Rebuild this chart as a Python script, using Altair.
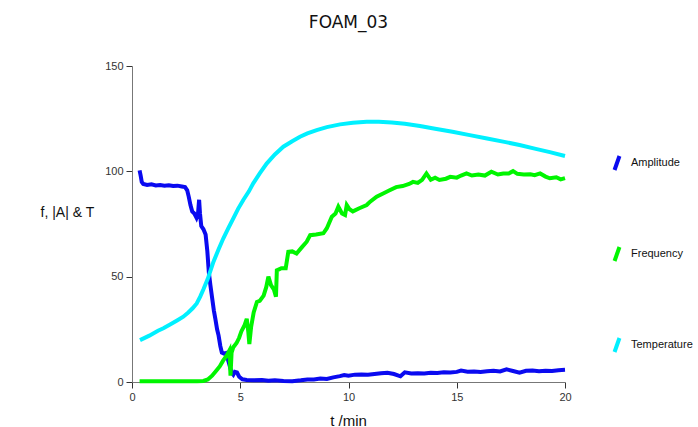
import altair as alt
import pandas as pd

# ---- data ----
amp_t = [0.35, 0.40, 0.45, 0.52, 0.7, 0.9, 1.1, 1.3, 1.5, 1.7, 1.9, 2.1, 2.3, 2.45, 2.55, 2.62, 2.7, 2.78,
         2.88, 2.98, 3.05, 3.1, 3.14, 3.2, 3.3, 3.4, 3.48, 3.55, 3.62, 3.7, 3.78, 3.85, 3.93, 4.0, 4.08,
         4.15, 4.25, 4.35, 4.45, 4.53, 4.6, 4.68, 4.75, 4.85, 4.95, 5.1, 5.3, 5.6, 6.0, 6.3, 6.6, 7.0,
         7.4, 7.8, 8.1, 8.4, 8.7, 9.0, 9.3, 9.6, 9.8, 10.0, 10.3, 10.6, 10.9, 11.2, 11.5, 11.8, 12.1,
         12.4, 12.6, 12.9, 13.2, 13.5, 13.8, 14.1, 14.4, 14.7, 15.0, 15.2, 15.5, 15.8, 16.1, 16.4, 16.7,
         17.0, 17.3, 17.6, 17.9, 18.2, 18.5, 18.8, 19.1, 19.4, 19.7, 20.0]
amp_v = [100.5, 98, 95, 94, 93.5, 93.8, 93.3, 93.5, 93.2, 93.4, 93.0, 93.2, 92.8, 92.5, 91, 88, 84, 81,
         80, 78, 80, 86.5, 80, 74, 72.5, 70, 62, 52, 46, 40, 34, 30, 25, 22, 17,
         14, 13.5, 13.8, 10, 7, 4.5, 3.5, 4.8, 4.5, 2.5, 1.3, 1.0, 0.8, 1.0, 0.6, 0.8, 0.5,
         0.4, 0.8, 1.2, 1.2, 1.6, 1.4, 2.2, 2.8, 3.3, 3.0, 3.5, 3.6, 3.4, 3.8, 4.2, 4.4, 3.8,
         2.7, 4.6, 4.0, 4.2, 4.0, 4.4, 4.3, 4.6, 4.5, 4.8, 5.4, 4.9, 5.0, 4.8, 5.1, 5.3,
         5.0, 6.0, 5.2, 4.4, 5.3, 5.4, 5.1, 5.3, 5.2, 5.6, 5.8]

freq_t = [0.35, 1.0, 2.0, 3.0, 3.3, 3.5, 3.7, 3.9, 4.06, 4.2, 4.37, 4.5, 4.55, 4.6, 4.68, 4.83, 4.95,
          5.05, 5.2, 5.3, 5.37, 5.42, 5.5, 5.62, 5.77, 5.9, 6.08, 6.2, 6.3, 6.42, 6.55, 6.65, 6.69,
          6.9, 7.1, 7.22, 7.4, 7.6, 7.85, 8.07, 8.23, 8.5, 8.84, 9.0, 9.23, 9.4, 9.53, 9.7, 9.84, 9.92,
          10.05, 10.2, 10.5, 10.84, 11.0, 11.3, 11.6, 11.9, 12.2, 12.5, 12.8, 12.98, 13.2, 13.4, 13.6,
          13.8, 14.0, 14.2, 14.5, 14.7, 15.0, 15.2, 15.45, 15.7, 16.0, 16.3, 16.6, 16.9, 17.15, 17.4,
          17.6, 17.8, 18.1, 18.4, 18.6, 18.85, 19.1, 19.3, 19.6, 19.8, 20.0]
freq_v = [0.3, 0.3, 0.3, 0.3, 0.5, 1.2, 3, 5.5, 7.5, 10, 12.5, 15, 3, 14, 16.5, 18.5, 21,
          24, 27, 30, 24, 18, 26, 33, 38, 38.5, 41, 45, 50, 46, 44, 40.5, 53,
          54, 54, 61.8, 62, 61, 64, 66.6, 69.7, 70, 70.6, 73, 78.5, 80, 83.2, 80, 79.3, 84,
          82, 81, 82.5, 84, 85.6, 88, 89.5, 91, 92.5, 93, 94, 95, 94.5, 96, 99,
          96, 97, 95.9, 96.5, 97.4, 97, 98, 99, 98, 98.5, 98, 99.8, 98.5, 99, 99,
          100.1, 98.8, 98.5, 98.6, 98.2, 99, 97.5, 96.7, 97.2, 96.2, 96.8]

temp_t = [0.37, 0.8, 1.2, 1.45, 1.8, 2.1, 2.37, 2.6, 2.8, 2.99, 3.15, 3.3, 3.5, 3.76, 4.0, 4.22,
          4.45, 4.68, 4.9, 5.14, 5.4, 5.6, 5.9, 6.22, 6.6, 6.99, 7.4, 7.76, 8.1, 8.53, 9.0, 9.61,
          10.2, 10.84, 11.4, 12.0, 12.6, 13.3, 14.0, 14.8, 15.6, 16.4, 17.2, 17.9, 18.6, 19.3, 20.0]
temp_v = [19.9, 22, 24.3, 25.5, 27.5, 29.3, 31, 33, 35, 37.3, 40.5, 44, 49, 57, 63, 68.2,
          73, 77.7, 82.2, 86.4, 90.5, 94.3, 99, 103.7, 108, 111.7, 114.3, 116.4, 118, 119.6, 121, 122.3,
          123.1, 123.5, 123.5, 123.2, 122.6, 121.5, 120.2, 118.8, 117.2, 115.6, 114, 112.5, 110.8, 109.1, 107.3]

series = ["Amplitude", "Frequency", "Temperature"]
colors = ["#0a0af0", "#00f500", "#00f0ff"]

rows = []
for name, ts, vs in [("Amplitude", amp_t, amp_v), ("Frequency", freq_t, freq_v), ("Temperature", temp_t, temp_v)]:
    for i, (t, v) in enumerate(zip(ts, vs)):
        rows.append({"series": name, "t": t, "v": v, "i": i})
df = pd.DataFrame(rows)

FONT = "Liberation Sans"

chart = alt.Chart(df).mark_line(strokeWidth=4, clip=False).encode(
    x=alt.X("t:Q", scale=alt.Scale(domain=[0, 20], nice=False),
            axis=alt.Axis(values=[0, 5, 10, 15, 20], title="t /min", grid=False,
                          titleX=216, titleY=38, titleAlign="center", titleBaseline="middle",
                          titleFontSize=15, titleFontWeight="normal", titleFont=FONT, titleColor="#111",
                          labelFont=FONT, labelFontSize=11, labelColor="#333", labelPadding=3,
                          tickSize=6, tickColor="#333", domainColor="#777", labelFlush=False)),
    y=alt.Y("v:Q", scale=alt.Scale(domain=[0, 150], nice=False),
            axis=alt.Axis(values=[0, 50, 100, 150], title="f, |A| & T", grid=False,
                          titleAngle=0, titleX=-92, titleY=146, titleAlign="left", titleBaseline="middle",
                          titleFontSize=14, titleFontWeight="normal", titleFont=FONT, titleColor="#111",
                          labelFont=FONT, labelFontSize=11, labelColor="#333", labelPadding=3,
                          tickSize=6, tickColor="#333", domainColor="#777")),
    color=alt.Color("series:N", scale=alt.Scale(domain=series, range=colors),
                    legend=alt.Legend(title=None, orient="none", legendX=476, legendY=88,
                                      symbolType="M-0.35,1L0.35,-1", symbolSize=196,
                                      symbolStrokeWidth=4, rowPadding=61, labelOffset=5,
                                      labelFont=FONT, labelFontSize=11, labelColor="#111",
                                      padding=0)),
    order="i:Q",
).properties(
    width=433, height=316,
    title=alt.TitleParams("FOAM_03", font="DejaVu Sans", fontSize=17, fontWeight="normal",
                          anchor="middle", offset=28, color="#111"),
    autosize=alt.AutoSizeParams(type="none"),
    padding={"left": 132, "top": 66, "right": 133, "bottom": 45},
).configure_view(stroke=None)

chart.save("out.html", embed_options={"renderer": "svg", "actions": False})
